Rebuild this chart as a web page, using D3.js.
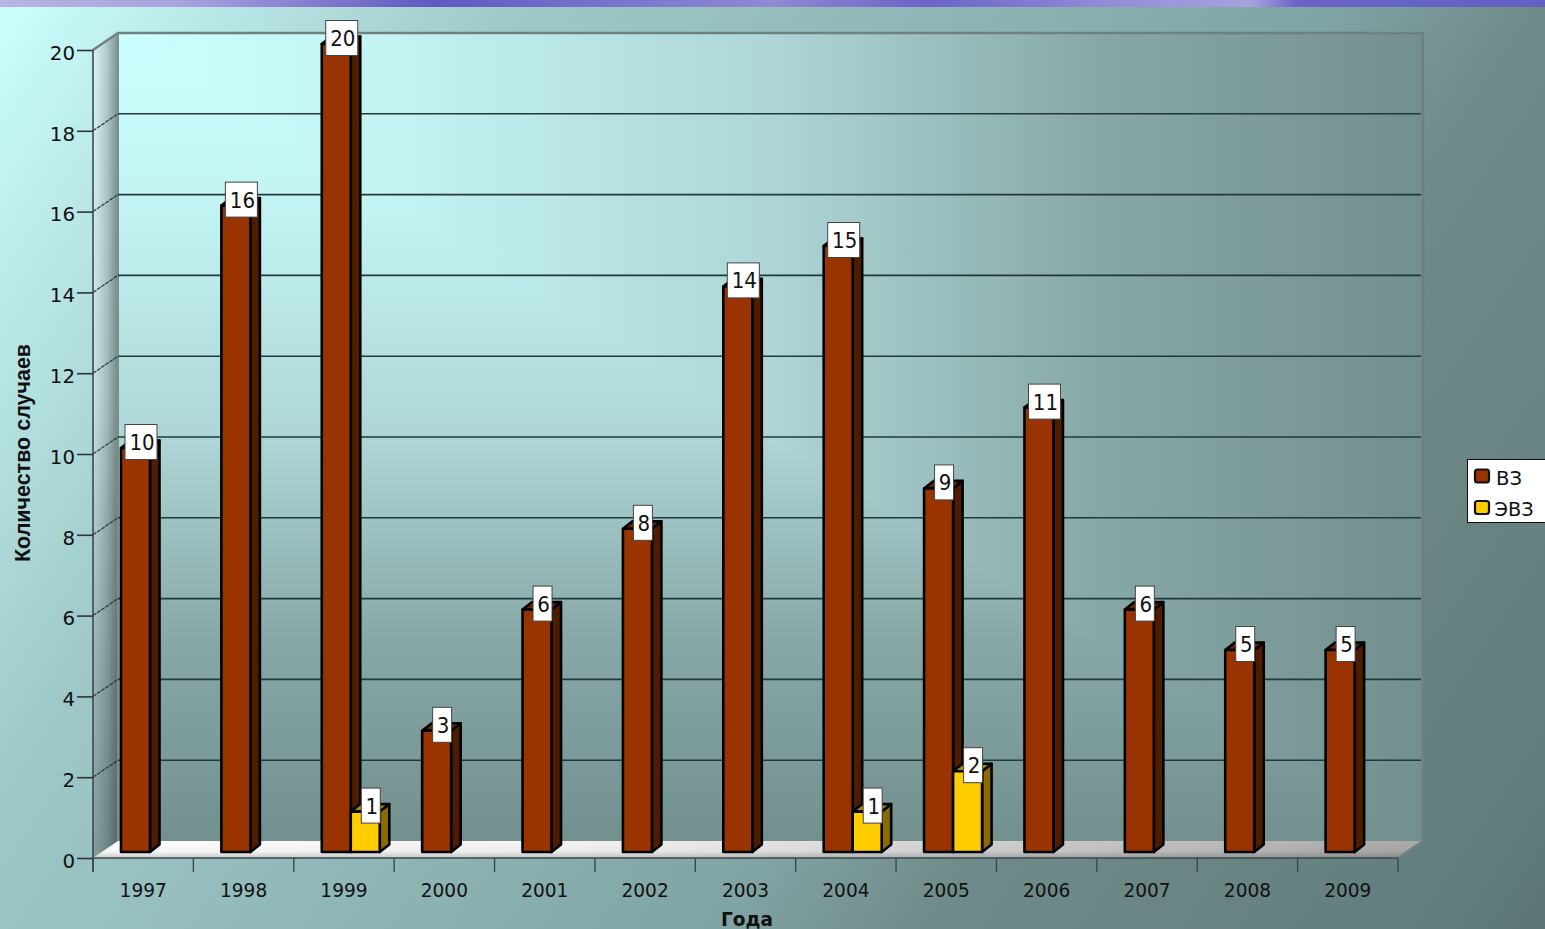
<!DOCTYPE html>
<html>
<head>
<meta charset="utf-8">
<script src="https://cdn.jsdelivr.net/npm/d3@7"></script>
<style>
  html, body { margin: 0; padding: 0; overflow: hidden; }
  text { font-family: "DejaVu Sans", sans-serif; fill: #111; }
</style>
</head>
<body>
<div id="chart"></div>
<script>
// data
var years = ["1997", "1998", "1999", "2000", "2001", "2002", "2003", "2004", "2005", "2006", "2007", "2008", "2009"];
var vz = [10, 16, 20, 3, 6, 8, 14, 15, 9, 11, 6, 5, 5];
var evz = [0, 0, 1, 0, 0, 0, 0, 1, 2, 0, 0, 0, 0];
var seriesNames = ["ВЗ", "ЭВЗ"];
var yTicks = [0, 2, 4, 6, 8, 10, 12, 14, 16, 18, 20];

var width = 1545, height = 929;

// plot box: these are the front edges of the 3d box
var plotLeft = 93, plotRight = 1398, plotBottom = 858, plotTop = 50;
var depthX = 25, depthY = 17;   // wall offset
var barDx = 9.5, barDy = 7.5;   // bar depth

var svg = d3.select("#chart")
  .append("svg")
  .attr("width", width)
  .attr("height", height)
  .style("display", "block");

var x = d3.scaleBand().domain(years).range([plotLeft, plotRight]);
var y = d3.scaleLinear().domain([0, 20]).range([plotBottom, plotTop]);
// bars sit inside the band, 28px in from its left edge
var xSub = d3.scaleBand().domain(seriesNames).range([28, 86]);

var defs = svg.append("defs");

function gradient(id, x1, y1, x2, y2, stops) {
  var g = defs.append("linearGradient")
    .attr("id", id)
    .attr("gradientUnits", "userSpaceOnUse")
    .attr("x1", x1).attr("y1", y1).attr("x2", x2).attr("y2", y2);
  stops.forEach(function(s) {
    var st = g.append("stop").attr("offset", s[0]).attr("stop-color", s[1]);
    if (s[2] != null) st.attr("stop-opacity", s[2]);
  });
}

// the original text is a little narrow, squeeze it to the measured width
function squeeze(sel, perChar) {
  sel.attr("lengthAdjust", "spacingAndGlyphs")
    .attr("textLength", function() { return this.textContent.length * perChar; });
}

var wallL = plotLeft + depthX, wallR = plotRight + depthX, wallT = plotTop - depthY, wallB = plotBottom - depthY;

gradient("pageGrad", 0, 0, 1498, 999, [
  [0, "#ccffff"], [0.12, "#b6e3e3"], [0.246, "#9ec8c8"], [0.38, "#94bcbc"], [0.62, "#80a3a3"], [0.71, "#708c8a"], [0.955, "#617c7c"], [1, "#5c7676"]
]);
gradient("stripGrad", 0, 0, width, 0, [
  [0, "#b8b4e2"], [0.12, "#a8a2de"], [0.28, "#5f5ac2"], [0.4, "#7a74cf"], [0.5, "#8f89d6"], [0.6, "#6a64c8"],
  [0.72, "#938dd8"], [0.81, "#a8a2de"], [0.84, "#6a64c6"], [1, "#6460c4"]
]);
// wall is a rectangular gradient from the top left corner
var wallStops = ["#ccffff", "#c4f4f4", "#aed6d6", "#88a8a7", "#71908e"];
gradient("wallX", wallL, 0, wallR, 0, [[0, wallStops[0]], [0.2, wallStops[1]], [0.5, wallStops[2]], [0.75, wallStops[3]], [1, wallStops[4]]]);
gradient("wallY", 0, wallT, 0, wallB, [[0, wallStops[0]], [0.2, wallStops[1]], [0.5, wallStops[2]], [0.75, wallStops[3]], [1, wallStops[4]]]);
gradient("sideGrad", plotLeft, 0, wallL, 0, [[0, "#dff5f5"], [0.55, "#b0cccc"], [1, "#7f9292"]]);
gradient("sideShade", 0, wallT, 0, plotBottom, [[0, "#000", 0], [0.45, "#000", 0.08], [1, "#203030", 0.45]]);
gradient("floorX", plotLeft, 0, wallR, 0, [[0, "#ffffff"], [0.4, "#f0f0f0"], [1, "#a8a8a8"]]);
gradient("floorY", 0, wallB, 0, plotBottom, [[0, "#000", 0], [0.6, "#000", 0.03], [1, "#000", 0.2]]);

// background
svg.append("rect").attr("width", width).attr("height", height).attr("fill", "url(#pageGrad)");
svg.append("rect").attr("width", width).attr("height", 7).attr("fill", "url(#stripGrad)");

function poly(pts, fill, stroke, sw) {
  return svg.append("path")
    .attr("d", "M" + pts.map(function(p) { return p.join(","); }).join("L") + "Z")
    .attr("fill", fill)
    .attr("stroke", stroke || "none")
    .attr("stroke-width", sw || 0);
}

// walls
poly([[wallL, wallT], [wallR, wallT], [wallR, wallB], [wallL, wallB]], "url(#wallX)");
poly([[wallL, wallT], [wallR, wallB], [wallL, wallB]], "url(#wallY)");
poly([[plotLeft, plotTop], [wallL, wallT], [wallL, wallB], [plotLeft, plotBottom]], "url(#sideGrad)");
poly([[plotLeft, plotTop], [wallL, wallT], [wallL, wallB], [plotLeft, plotBottom]], "url(#sideShade)");
poly([[plotLeft, plotBottom], [wallL, wallB], [wallR, wallB], [plotRight, plotBottom]], "url(#floorX)");
poly([[plotLeft, plotBottom], [wallL, wallB], [wallR, wallB], [plotRight, plotBottom]], "url(#floorY)");

// wall outline
svg.append("path")
  .attr("d", "M" + plotLeft + "," + plotTop + "L" + wallL + "," + wallT + "H" + wallR + "V" + wallB + "L" + plotRight + "," + plotBottom)
  .attr("fill", "none").attr("stroke", "#6f8080").attr("stroke-width", 2.5);
svg.append("line")
  .attr("x1", wallL).attr("x2", wallL).attr("y1", wallT).attr("y2", wallB)
  .attr("stroke", "#7d8c8c").attr("stroke-width", 2);

// gridlines, back wall plus the step down the side wall
yTicks.filter(function(d) { return d > 0 && d < 20; }).forEach(function(d) {
  svg.append("line")
    .attr("x1", wallL).attr("x2", wallR - 2)
    .attr("y1", y(d) - depthY).attr("y2", y(d) - depthY)
    .attr("stroke", "#22393a").attr("stroke-width", 1.6);
  svg.append("line")
    .attr("x1", plotLeft).attr("x2", wallL)
    .attr("y1", y(d)).attr("y2", y(d) - depthY)
    .attr("stroke", "#22393a").attr("stroke-width", 1.2)
    .attr("stroke-dasharray", "4,1");
});

// axes
var yAxis = d3.axisLeft(y).tickValues(yTicks).tickSize(16).tickPadding(2);
var xAxis = d3.axisBottom(x).tickSize(0).tickPadding(31);

var gy = svg.append("g").attr("transform", "translate(" + plotLeft + ",0)").call(yAxis);
gy.selectAll("text").style("font-size", "20px").attr("fill", "#111").attr("dy", "0.46em").call(squeeze, 12.6);
gy.selectAll("line").attr("stroke", "#333").attr("stroke-width", 1.6);
gy.select(".domain").attr("d", "M0," + plotTop + "V" + (plotBottom + 14)).attr("stroke", "#3a4a4a").attr("stroke-width", 1.6);

var gx = svg.append("g").attr("transform", "translate(0," + plotBottom + ")").call(xAxis);
gx.selectAll("text").style("font-size", "19px").attr("fill", "#111").attr("dy", "0.42em").call(squeeze, 11.8);
gx.select(".domain").attr("d", "M" + plotLeft + ",0H" + plotRight).attr("stroke", "#3a4a4a").attr("stroke-width", 1.6);
// band edges get the ticks, not the band centres
gx.selectAll(".tick line").remove();
gx.selectAll(".edge")
  .data(years.concat(["end"]))
  .enter()
  .append("line")
  .attr("class", "edge")
  .attr("x1", function(d, i) { return plotLeft + i * x.step(); })
  .attr("x2", function(d, i) { return plotLeft + i * x.step(); })
  .attr("y1", 0).attr("y2", 14)
  .attr("stroke", "#3a4a4a").attr("stroke-width", 1.4);

// axis titles
svg.append("text")
  .attr("transform", "translate(30,453) rotate(-90)")
  .attr("text-anchor", "middle")
  .style("font-family", "'Liberation Sans', sans-serif")
  .style("font-weight", "bold")
  .style("font-size", "21.5px")
  .text("Количество случаев");
svg.append("text")
  .attr("x", 747).attr("y", 926)
  .attr("text-anchor", "middle")
  .style("font-weight", "bold")
  .style("font-size", "19px")
  .text("Года")
  .call(squeeze, 13);

// bars
var barColors = {
  "ВЗ": { front: "#993300", side: "#4f1c00", top: "#6a2500" },
  "ЭВЗ": { front: "#ffcc00", side: "#8a6c00", top: "#a88c10" }
};
var floorOffset = 6; // bars stand a little behind the front of the floor

function drawBar(year, name, value) {
  if (value === 0) return;
  var c = barColors[name];
  var x0 = x(year) + xSub(name);
  var x1 = x0 + xSub.bandwidth();
  var y0 = y(0) - floorOffset;
  var y1 = y(value) - floorOffset;
  poly([[x1, y1], [x1 + barDx, y1 - barDy], [x1 + barDx, y0 - barDy], [x1, y0]], c.side, "#000", 2.6)
    .attr("stroke-linejoin", "round");
  poly([[x0, y1], [x0 + barDx, y1 - barDy], [x1 + barDx, y1 - barDy], [x1, y1]], c.top, "#000", 2.6)
    .attr("stroke-linejoin", "round");
  poly([[x0, y1], [x1, y1], [x1, y0], [x0, y0]], c.front, "#000", 2.6)
    .attr("stroke-linejoin", "round");
}

function drawLabel(year, name, value) {
  if (value === 0) return;
  var cx = x(year) + xSub(name) + 20;
  var cy = y(value) - floorOffset - 6;
  var w = String(value).length > 1 ? 32 : 19;
  svg.append("rect")
    .attr("x", cx - w / 2).attr("y", cy - 17.5)
    .attr("width", w).attr("height", 35)
    .attr("fill", "#fff").attr("stroke", "#444").attr("stroke-width", 1);
  svg.append("text")
    .attr("x", cx + 1).attr("y", cy + 8)
    .attr("text-anchor", "middle")
    .style("font-size", "20.5px")
    .text(value)
    .call(squeeze, 12.6);
}

years.forEach(function(yr, i) {
  drawBar(yr, "ВЗ", vz[i]);
  drawBar(yr, "ЭВЗ", evz[i]);
});
years.forEach(function(yr, i) {
  drawLabel(yr, "ВЗ", vz[i]);
  drawLabel(yr, "ЭВЗ", evz[i]);
});

// legend
var legend = svg.append("g");
legend.append("rect")
  .attr("x", 1467.5).attr("y", 459.5)
  .attr("width", 90).attr("height", 63)
  .attr("fill", "#fff").attr("stroke", "#111").attr("stroke-width", 1);
seriesNames.forEach(function(name, i) {
  legend.append("rect")
    .attr("x", 1475).attr("y", 469.5 + i * 31.5)
    .attr("width", 14).attr("height", 13).attr("rx", 2.5)
    .attr("fill", barColors[name].front)
    .attr("stroke", "#111").attr("stroke-width", 2.2);
  legend.append("text")
    .attr("x", i === 0 ? 1496 : 1494.5).attr("y", 484.5 + i * 31.5)
    .style("font-size", "20px")
    .text(name)
    .call(squeeze, 13);
});
</script>
</body>
</html>
